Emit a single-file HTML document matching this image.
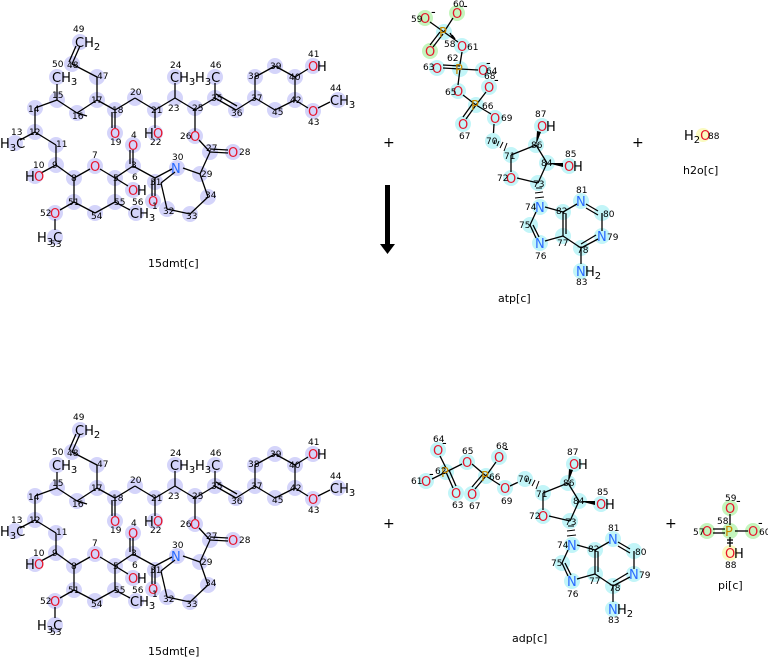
<!DOCTYPE html>
<html><head><meta charset="utf-8"><style>
html,body{margin:0;padding:0;background:#fff}
svg{display:block;font-family:"DejaVu Sans","Liberation Sans",sans-serif}
.l line{stroke:#000;stroke-width:1.3}
.n{font-size:9px;fill:#000}
.o{font-size:13px;fill:#e8142c}
.b{font-size:13px;fill:#2a6bff}
.k{font-size:13px;fill:#000}
.p{font-size:13px;fill:#c98a00}
.cl{fill:#d4d4fa}
.cc{fill:#c2f5f8}
.cg{fill:#c4f5bd}
.cy{fill:#fafac0}
.t{font-size:11px;fill:#000}
</style></head><body>
<svg width="768" height="657" viewBox="0 0 768 657" xmlns="http://www.w3.org/2000/svg">
<g id="m1">
<g class="cl">
<circle cx="80" cy="42" r="8"/><circle cx="72" cy="64" r="8"/><circle cx="97" cy="77" r="8"/><circle cx="97" cy="100" r="8"/><circle cx="57" cy="77" r="8"/><circle cx="57" cy="100" r="8"/><circle cx="77" cy="113" r="8"/><circle cx="35" cy="108" r="8"/><circle cx="35" cy="132" r="8"/><circle cx="15" cy="143" r="8"/><circle cx="56" cy="145" r="8"/><circle cx="56" cy="165" r="8"/><circle cx="35" cy="176" r="8"/><circle cx="74" cy="178" r="8"/><circle cx="95" cy="166" r="8"/><circle cx="115" cy="178" r="8"/><circle cx="133" cy="190" r="8"/><circle cx="133" cy="166" r="8"/><circle cx="133" cy="145" r="8"/><circle cx="155" cy="182" r="8"/><circle cx="153" cy="201" r="8"/><circle cx="177" cy="168" r="8"/><circle cx="115" cy="202" r="8"/><circle cx="95" cy="213" r="8"/><circle cx="74" cy="202" r="8"/><circle cx="55" cy="213" r="8"/><circle cx="55" cy="237" r="8"/><circle cx="167" cy="209" r="8"/><circle cx="190" cy="214" r="8"/><circle cx="208" cy="197" r="8"/><circle cx="200" cy="174" r="8"/><circle cx="210" cy="152" r="8"/><circle cx="233" cy="152" r="8"/><circle cx="195" cy="136" r="8"/><circle cx="195" cy="108" r="8"/><circle cx="115" cy="110" r="8"/><circle cx="115" cy="133" r="8"/><circle cx="135" cy="98" r="8"/><circle cx="155" cy="110" r="8"/><circle cx="155" cy="133" r="8"/><circle cx="175" cy="98" r="8"/><circle cx="175" cy="77" r="8"/><circle cx="215" cy="98" r="8"/><circle cx="215" cy="77" r="8"/><circle cx="236" cy="110" r="8"/><circle cx="255" cy="98" r="8"/><circle cx="255" cy="77" r="8"/><circle cx="275" cy="66" r="8"/><circle cx="295" cy="77" r="8"/><circle cx="313" cy="66" r="8"/><circle cx="295" cy="100" r="8"/><circle cx="313" cy="111" r="8"/><circle cx="338" cy="100" r="8"/><circle cx="275" cy="110" r="8"/><circle cx="136" cy="213" r="8"/>
</g>
<g class="l">
<line x1="80" y1="46" x2="72" y2="64"/><line x1="76" y1="46" x2="69" y2="62"/>
<line x1="72" y1="64" x2="97" y2="77"/><line x1="97" y1="77" x2="97" y2="100"/><line x1="97" y1="100" x2="77" y2="113"/><line x1="77" y1="113" x2="87" y2="116"/><line x1="77" y1="113" x2="57" y2="100"/><line x1="57" y1="100" x2="57" y2="84"/><line x1="57" y1="100" x2="35" y2="108"/><line x1="35" y1="108" x2="35" y2="132"/><line x1="35" y1="132" x2="20" y2="140"/><line x1="35" y1="132" x2="56" y2="145"/><line x1="56" y1="145" x2="56" y2="165"/><line x1="56" y1="165" x2="41" y2="173"/><line x1="56" y1="165" x2="74" y2="178"/><line x1="74" y1="178" x2="90" y2="169"/><line x1="100" y1="169" x2="115" y2="178"/><line x1="115" y1="178" x2="128" y2="186"/><line x1="115" y1="178" x2="133" y2="166"/><line x1="133" y1="166" x2="133" y2="150"/><line x1="130" y1="164" x2="130" y2="150"/><line x1="133" y1="166" x2="155" y2="178"/><line x1="155" y1="178" x2="155" y2="196"/><line x1="152" y1="180" x2="152" y2="196"/><line x1="155" y1="178" x2="172" y2="169"/><line x1="175" y1="172" x2="161" y2="183"/><line x1="161" y1="183" x2="167" y2="209"/><line x1="167" y1="209" x2="190" y2="214"/><line x1="190" y1="214" x2="208" y2="197"/><line x1="208" y1="197" x2="200" y2="174"/><line x1="200" y1="174" x2="183" y2="168"/><line x1="200" y1="174" x2="210" y2="152"/><line x1="210" y1="152" x2="228" y2="153"/><line x1="210" y1="149" x2="228" y2="150"/><line x1="210" y1="152" x2="199" y2="140"/><line x1="195" y1="131" x2="195" y2="108"/><line x1="115" y1="178" x2="115" y2="202"/><line x1="115" y1="202" x2="130" y2="210"/><line x1="115" y1="202" x2="95" y2="213"/><line x1="95" y1="213" x2="74" y2="202"/><line x1="74" y1="202" x2="74" y2="178"/><line x1="74" y1="202" x2="60" y2="210"/><line x1="55" y1="219" x2="55" y2="230"/><line x1="97" y1="100" x2="115" y2="110"/><line x1="115" y1="110" x2="115" y2="128"/><line x1="112" y1="112" x2="112" y2="128"/><line x1="115" y1="110" x2="135" y2="98"/><line x1="135" y1="98" x2="155" y2="110"/><line x1="155" y1="110" x2="155" y2="128"/><line x1="155" y1="110" x2="175" y2="98"/><line x1="175" y1="98" x2="175" y2="83"/><line x1="175" y1="98" x2="195" y2="110"/><line x1="195" y1="110" x2="215" y2="98"/><line x1="215" y1="98" x2="215" y2="83"/><line x1="215" y1="98" x2="236" y2="110"/><line x1="216" y1="94" x2="237" y2="106"/><line x1="236" y1="110" x2="255" y2="98"/><line x1="255" y1="98" x2="255" y2="77"/><line x1="255" y1="77" x2="275" y2="66"/><line x1="275" y1="66" x2="295" y2="77"/><line x1="295" y1="77" x2="308" y2="69"/><line x1="295" y1="77" x2="295" y2="100"/><line x1="295" y1="100" x2="308" y2="108"/><line x1="318" y1="108" x2="330" y2="102"/><line x1="295" y1="100" x2="275" y2="110"/><line x1="275" y1="110" x2="255" y2="98"/>
</g>
<text class="k" x="75" y="47">CH<tspan font-size="10" dy="3">2</tspan></text>
<text class="k" x="52" y="82">CH<tspan font-size="10" dy="3">3</tspan></text>
<text class="k" x="0" y="148">H<tspan font-size="10" dy="3">3</tspan><tspan dy="-3">C</tspan></text>
<text class="k" x="25" y="181">H</text><text class="o" x="34" y="181">O</text>
<text class="o" x="90" y="171">O</text>
<text class="o" x="128" y="195">O</text><text class="k" x="137" y="195">H</text>
<text class="o" x="128" y="150">O</text>
<text class="o" x="148" y="206">O</text>
<text class="b" x="171" y="173">N</text>
<text class="k" x="130" y="218">CH<tspan font-size="10" dy="3">3</tspan></text>
<text class="o" x="50" y="218">O</text>
<text class="k" x="37" y="242">H<tspan font-size="10" dy="3">3</tspan><tspan dy="-3">C</tspan></text>
<text class="o" x="190" y="141">O</text>
<text class="o" x="228" y="157">O</text>
<text class="o" x="110" y="138">O</text>
<text class="k" x="144" y="138">H</text><text class="o" x="153" y="138">O</text>
<text class="k" x="170" y="82">CH<tspan font-size="10" dy="3">3</tspan></text>
<text class="k" x="195" y="82">H<tspan font-size="10" dy="3">3</tspan><tspan dy="-3">C</tspan></text>
<text class="o" x="308" y="71">O</text><text class="k" x="317" y="71">H</text>
<text class="o" x="308" y="116">O</text>
<text class="k" x="330" y="105">CH<tspan font-size="10" dy="3">3</tspan></text>
<g class="n">
<text x="73" y="32">49</text><text x="67" y="68">48</text><text x="97" y="79">47</text><text x="91" y="103">17</text><text x="52" y="67">50</text><text x="52" y="98">15</text><text x="72" y="119">16</text><text x="28" y="112">14</text><text x="29" y="135">12</text><text x="11" y="135">13</text><text x="56" y="147">11</text><text x="33" y="168">10</text><text x="52" y="168">9</text><text x="71" y="181">8</text><text x="92" y="158">7</text><text x="113" y="181">5</text><text x="132" y="180">6</text><text x="131" y="168">3</text><text x="131" y="138">4</text><text x="150" y="185">31</text><text x="152" y="209">1</text><text x="172" y="160">30</text><text x="114" y="205">55</text><text x="132" y="205">56</text><text x="91" y="219">54</text><text x="68" y="205">51</text><text x="40" y="216">52</text><text x="50" y="247">53</text><text x="163" y="214">32</text><text x="186" y="219">33</text><text x="205" y="198">34</text><text x="201" y="177">29</text><text x="206" y="151">27</text><text x="239" y="155">28</text><text x="180" y="139">26</text><text x="192" y="111">25</text><text x="112" y="113">18</text><text x="110" y="145">19</text><text x="130" y="95">20</text><text x="151" y="113">21</text><text x="150" y="145">22</text><text x="168" y="111">23</text><text x="170" y="68">24</text><text x="211" y="101">35</text><text x="210" y="68">46</text><text x="231" y="116">36</text><text x="251" y="101">37</text><text x="248" y="79">38</text><text x="270" y="69">39</text><text x="289" y="80">40</text><text x="308" y="57">41</text><text x="290" y="103">42</text><text x="308" y="125">43</text><text x="330" y="91">44</text><text x="272" y="115">45</text>
</g>
</g>
<text class="t" x="148" y="267">15dmt[c]</text>

<g transform="translate(0,388)">
<g class="cl">
<circle cx="80" cy="42" r="8"/><circle cx="72" cy="64" r="8"/><circle cx="97" cy="77" r="8"/><circle cx="97" cy="100" r="8"/><circle cx="57" cy="77" r="8"/><circle cx="57" cy="100" r="8"/><circle cx="77" cy="113" r="8"/><circle cx="35" cy="108" r="8"/><circle cx="35" cy="132" r="8"/><circle cx="15" cy="143" r="8"/><circle cx="56" cy="145" r="8"/><circle cx="56" cy="165" r="8"/><circle cx="35" cy="176" r="8"/><circle cx="74" cy="178" r="8"/><circle cx="95" cy="166" r="8"/><circle cx="115" cy="178" r="8"/><circle cx="133" cy="190" r="8"/><circle cx="133" cy="166" r="8"/><circle cx="133" cy="145" r="8"/><circle cx="155" cy="182" r="8"/><circle cx="153" cy="201" r="8"/><circle cx="177" cy="168" r="8"/><circle cx="115" cy="202" r="8"/><circle cx="95" cy="213" r="8"/><circle cx="74" cy="202" r="8"/><circle cx="55" cy="213" r="8"/><circle cx="55" cy="237" r="8"/><circle cx="167" cy="209" r="8"/><circle cx="190" cy="214" r="8"/><circle cx="208" cy="197" r="8"/><circle cx="200" cy="174" r="8"/><circle cx="210" cy="152" r="8"/><circle cx="233" cy="152" r="8"/><circle cx="195" cy="136" r="8"/><circle cx="195" cy="108" r="8"/><circle cx="115" cy="110" r="8"/><circle cx="115" cy="133" r="8"/><circle cx="135" cy="98" r="8"/><circle cx="155" cy="110" r="8"/><circle cx="155" cy="133" r="8"/><circle cx="175" cy="98" r="8"/><circle cx="175" cy="77" r="8"/><circle cx="215" cy="98" r="8"/><circle cx="215" cy="77" r="8"/><circle cx="236" cy="110" r="8"/><circle cx="255" cy="98" r="8"/><circle cx="255" cy="77" r="8"/><circle cx="275" cy="66" r="8"/><circle cx="295" cy="77" r="8"/><circle cx="313" cy="66" r="8"/><circle cx="295" cy="100" r="8"/><circle cx="313" cy="111" r="8"/><circle cx="338" cy="100" r="8"/><circle cx="275" cy="110" r="8"/><circle cx="136" cy="213" r="8"/>
</g>
<g class="l">
<line x1="80" y1="46" x2="72" y2="64"/><line x1="76" y1="46" x2="69" y2="62"/>
<line x1="72" y1="64" x2="97" y2="77"/><line x1="97" y1="77" x2="97" y2="100"/><line x1="97" y1="100" x2="77" y2="113"/><line x1="77" y1="113" x2="87" y2="116"/><line x1="77" y1="113" x2="57" y2="100"/><line x1="57" y1="100" x2="57" y2="84"/><line x1="57" y1="100" x2="35" y2="108"/><line x1="35" y1="108" x2="35" y2="132"/><line x1="35" y1="132" x2="20" y2="140"/><line x1="35" y1="132" x2="56" y2="145"/><line x1="56" y1="145" x2="56" y2="165"/><line x1="56" y1="165" x2="41" y2="173"/><line x1="56" y1="165" x2="74" y2="178"/><line x1="74" y1="178" x2="90" y2="169"/><line x1="100" y1="169" x2="115" y2="178"/><line x1="115" y1="178" x2="128" y2="186"/><line x1="115" y1="178" x2="133" y2="166"/><line x1="133" y1="166" x2="133" y2="150"/><line x1="130" y1="164" x2="130" y2="150"/><line x1="133" y1="166" x2="155" y2="178"/><line x1="155" y1="178" x2="155" y2="196"/><line x1="152" y1="180" x2="152" y2="196"/><line x1="155" y1="178" x2="172" y2="169"/><line x1="175" y1="172" x2="161" y2="183"/><line x1="161" y1="183" x2="167" y2="209"/><line x1="167" y1="209" x2="190" y2="214"/><line x1="190" y1="214" x2="208" y2="197"/><line x1="208" y1="197" x2="200" y2="174"/><line x1="200" y1="174" x2="183" y2="168"/><line x1="200" y1="174" x2="210" y2="152"/><line x1="210" y1="152" x2="228" y2="153"/><line x1="210" y1="149" x2="228" y2="150"/><line x1="210" y1="152" x2="199" y2="140"/><line x1="195" y1="131" x2="195" y2="108"/><line x1="115" y1="178" x2="115" y2="202"/><line x1="115" y1="202" x2="130" y2="210"/><line x1="115" y1="202" x2="95" y2="213"/><line x1="95" y1="213" x2="74" y2="202"/><line x1="74" y1="202" x2="74" y2="178"/><line x1="74" y1="202" x2="60" y2="210"/><line x1="55" y1="219" x2="55" y2="230"/><line x1="97" y1="100" x2="115" y2="110"/><line x1="115" y1="110" x2="115" y2="128"/><line x1="112" y1="112" x2="112" y2="128"/><line x1="115" y1="110" x2="135" y2="98"/><line x1="135" y1="98" x2="155" y2="110"/><line x1="155" y1="110" x2="155" y2="128"/><line x1="155" y1="110" x2="175" y2="98"/><line x1="175" y1="98" x2="175" y2="83"/><line x1="175" y1="98" x2="195" y2="110"/><line x1="195" y1="110" x2="215" y2="98"/><line x1="215" y1="98" x2="215" y2="83"/><line x1="215" y1="98" x2="236" y2="110"/><line x1="216" y1="94" x2="237" y2="106"/><line x1="236" y1="110" x2="255" y2="98"/><line x1="255" y1="98" x2="255" y2="77"/><line x1="255" y1="77" x2="275" y2="66"/><line x1="275" y1="66" x2="295" y2="77"/><line x1="295" y1="77" x2="308" y2="69"/><line x1="295" y1="77" x2="295" y2="100"/><line x1="295" y1="100" x2="308" y2="108"/><line x1="318" y1="108" x2="330" y2="102"/><line x1="295" y1="100" x2="275" y2="110"/><line x1="275" y1="110" x2="255" y2="98"/>
</g>
<text class="k" x="75" y="47">CH<tspan font-size="10" dy="3">2</tspan></text>
<text class="k" x="52" y="82">CH<tspan font-size="10" dy="3">3</tspan></text>
<text class="k" x="0" y="148">H<tspan font-size="10" dy="3">3</tspan><tspan dy="-3">C</tspan></text>
<text class="k" x="25" y="181">H</text><text class="o" x="34" y="181">O</text>
<text class="o" x="90" y="171">O</text>
<text class="o" x="128" y="195">O</text><text class="k" x="137" y="195">H</text>
<text class="o" x="128" y="150">O</text>
<text class="o" x="148" y="206">O</text>
<text class="b" x="171" y="173">N</text>
<text class="k" x="130" y="218">CH<tspan font-size="10" dy="3">3</tspan></text>
<text class="o" x="50" y="218">O</text>
<text class="k" x="37" y="242">H<tspan font-size="10" dy="3">3</tspan><tspan dy="-3">C</tspan></text>
<text class="o" x="190" y="141">O</text>
<text class="o" x="228" y="157">O</text>
<text class="o" x="110" y="138">O</text>
<text class="k" x="144" y="138">H</text><text class="o" x="153" y="138">O</text>
<text class="k" x="170" y="82">CH<tspan font-size="10" dy="3">3</tspan></text>
<text class="k" x="195" y="82">H<tspan font-size="10" dy="3">3</tspan><tspan dy="-3">C</tspan></text>
<text class="o" x="308" y="71">O</text><text class="k" x="317" y="71">H</text>
<text class="o" x="308" y="116">O</text>
<text class="k" x="330" y="105">CH<tspan font-size="10" dy="3">3</tspan></text>
<g class="n">
<text x="73" y="32">49</text><text x="67" y="68">48</text><text x="97" y="79">47</text><text x="91" y="103">17</text><text x="52" y="67">50</text><text x="52" y="98">15</text><text x="72" y="119">16</text><text x="28" y="112">14</text><text x="29" y="135">12</text><text x="11" y="135">13</text><text x="56" y="147">11</text><text x="33" y="168">10</text><text x="52" y="168">9</text><text x="71" y="181">8</text><text x="92" y="158">7</text><text x="113" y="181">5</text><text x="132" y="180">6</text><text x="131" y="168">3</text><text x="131" y="138">4</text><text x="150" y="185">31</text><text x="152" y="209">1</text><text x="172" y="160">30</text><text x="114" y="205">55</text><text x="132" y="205">56</text><text x="91" y="219">54</text><text x="68" y="205">51</text><text x="40" y="216">52</text><text x="50" y="247">53</text><text x="163" y="214">32</text><text x="186" y="219">33</text><text x="205" y="198">34</text><text x="201" y="177">29</text><text x="206" y="151">27</text><text x="239" y="155">28</text><text x="180" y="139">26</text><text x="192" y="111">25</text><text x="112" y="113">18</text><text x="110" y="145">19</text><text x="130" y="95">20</text><text x="151" y="113">21</text><text x="150" y="145">22</text><text x="168" y="111">23</text><text x="170" y="68">24</text><text x="211" y="101">35</text><text x="210" y="68">46</text><text x="231" y="116">36</text><text x="251" y="101">37</text><text x="248" y="79">38</text><text x="270" y="69">39</text><text x="289" y="80">40</text><text x="308" y="57">41</text><text x="290" y="103">42</text><text x="308" y="125">43</text><text x="330" y="91">44</text><text x="272" y="115">45</text>
</g>
</g>
<text class="t" x="148" y="655">15dmt[e]</text>

<!-- plus and arrow -->
<text x="383" y="147" font-size="14" fill="#000">+</text>
<text x="632" y="147" font-size="14" fill="#000">+</text>
<text x="383" y="528" font-size="14" fill="#000">+</text>
<text x="665" y="528" font-size="14" fill="#000">+</text>
<rect x="385" y="185" width="5" height="60" fill="#000"/>
<polygon points="380,244 395,244 387.5,254" fill="#000"/>

<!-- ATP phosphates -->
<g class="cg"><circle cx="425" cy="18" r="8"/><circle cx="457" cy="13" r="8"/><circle cx="430" cy="51" r="8"/></g>
<g class="cc"><circle cx="444" cy="32" r="8"/><circle cx="462" cy="46" r="8"/><circle cx="460" cy="69" r="8"/><circle cx="437" cy="68" r="8"/><circle cx="483" cy="70" r="8"/><circle cx="489" cy="87" r="8"/><circle cx="458" cy="91" r="8"/><circle cx="476" cy="105" r="8"/><circle cx="463" cy="124" r="8"/><circle cx="495" cy="118" r="8"/></g>
<g class="l">
<line x1="444" y1="32" x2="430" y2="22"/><line x1="444" y1="32" x2="453" y2="18"/><line x1="443" y1="34" x2="433" y2="47"/><line x1="440" y1="32" x2="430" y2="45"/><line x1="444" y1="32" x2="458" y2="42"/><line x1="450" y1="33" x2="453" y2="38"/><line x1="452" y1="35" x2="455" y2="39"/>
<line x1="462" y1="52" x2="460" y2="64"/><line x1="460" y1="69" x2="443" y2="68"/><line x1="460" y1="66" x2="443" y2="65"/><line x1="460" y1="69" x2="478" y2="70"/><line x1="460" y1="69" x2="458" y2="85"/><line x1="463" y1="95" x2="476" y2="105"/><line x1="476" y1="105" x2="486" y2="92"/><line x1="476" y1="105" x2="466" y2="119"/><line x1="473" y1="103" x2="463" y2="117"/><line x1="476" y1="105" x2="491" y2="114"/><line x1="494" y1="124" x2="493" y2="141"/>
</g>
<text class="o" x="420" y="23">O</text><text class="k" x="431" y="16" font-size="10">-</text>
<text class="o" x="452" y="18">O</text><text class="k" x="463" y="10" font-size="10">-</text>
<text class="o" x="425" y="56">O</text>
<text class="p" x="439" y="37">P</text>
<text class="o" x="457" y="51">O</text>
<text class="p" x="455" y="74">P</text>
<text class="o" x="432" y="73">O</text>
<text class="o" x="478" y="75">O</text><text class="k" x="486" y="67" font-size="10">-</text>
<text class="o" x="484" y="92">O</text><text class="k" x="494" y="84" font-size="10">-</text>
<text class="o" x="453" y="96">O</text>
<text class="p" x="471" y="110">P</text>
<text class="o" x="458" y="129">O</text>
<text class="o" x="490" y="123">O</text>
<g class="n"><text x="411" y="22">59</text><text x="453" y="7">60</text><text x="444" y="47">58</text><text x="423" y="70">63</text><text x="467" y="50">61</text><text x="447" y="61">62</text><text x="486" y="74">64</text><text x="484" y="79">68</text><text x="445" y="95">65</text><text x="482" y="109">66</text><text x="459" y="139">67</text><text x="501" y="121">69</text></g>

<!-- nucleoside ATP -->
<g id="nuc">
<g class="cc"><circle cx="493" cy="141" r="8"/><circle cx="511" cy="155" r="8"/><circle cx="536" cy="145" r="8"/><circle cx="542" cy="126" r="8"/><circle cx="547" cy="163" r="8"/><circle cx="569" cy="166" r="8"/><circle cx="538" cy="183" r="8"/><circle cx="511" cy="178" r="8"/><circle cx="540" cy="207" r="8"/><circle cx="563" cy="212" r="8"/><circle cx="581" cy="201" r="8"/><circle cx="602" cy="213" r="8"/><circle cx="602" cy="236" r="8"/><circle cx="581" cy="248" r="8"/><circle cx="563" cy="236" r="8"/><circle cx="540" cy="243" r="8"/><circle cx="530" cy="225" r="8"/><circle cx="581" cy="271" r="8"/></g>
<g class="l">
<line x1="511" y1="155" x2="536" y2="145"/><line x1="536" y1="145" x2="547" y2="163"/><line x1="547" y1="163" x2="538" y2="183"/><line x1="538" y1="183" x2="517" y2="178"/><line x1="511" y1="172" x2="511" y2="155"/>
<line x1="536" y1="212" x2="530" y2="225"/><line x1="530" y1="225" x2="536" y2="238"/><line x1="533" y1="225" x2="539" y2="237"/><line x1="545" y1="241" x2="563" y2="236"/><line x1="563" y1="236" x2="563" y2="212"/><line x1="566" y1="234" x2="566" y2="214"/><line x1="563" y1="212" x2="545" y2="207"/><line x1="563" y1="212" x2="577" y2="204"/><line x1="586" y1="204" x2="598" y2="211"/><line x1="586" y1="208" x2="598" y2="215"/><line x1="602" y1="213" x2="602" y2="231"/><line x1="598" y1="239" x2="581" y2="248"/><line x1="596" y1="235" x2="581" y2="244"/><line x1="581" y1="248" x2="563" y2="236"/><line x1="581" y1="248" x2="581" y2="264"/>
</g>
<polygon points="536,145 537,131 541,132" fill="#000"/>
<polygon points="547,163 563,163 563,167" fill="#000"/>
<g stroke="#000" stroke-width="1">
<line x1="495" y1="140" x2="494" y2="144"/><line x1="499" y1="141" x2="497" y2="146"/><line x1="503" y1="142" x2="500" y2="148"/><line x1="507" y1="143" x2="504" y2="151"/>
<line x1="536" y1="188" x2="542" y2="188"/><line x1="535" y1="193" x2="543" y2="192"/><line x1="535" y1="198" x2="544" y2="197"/>
</g>
<text class="o" x="537" y="131">O</text><text class="k" x="546" y="131">H</text>
<text class="o" x="564" y="171">O</text><text class="k" x="573" y="171">H</text>
<text class="o" x="506" y="183">O</text>
<text class="b" x="535" y="212">N</text>
<text class="b" x="576" y="206">N</text>
<text class="b" x="597" y="241">N</text>
<text class="b" x="535" y="248">N</text>
<text class="b" x="576" y="276">N</text><text class="k" x="585" y="276">H<tspan font-size="10" dy="3">2</tspan></text>
<g class="n"><text x="535" y="117">87</text><text x="531" y="148">86</text><text x="565" y="157">85</text><text x="541" y="166">84</text><text x="504" y="159">71</text><text x="486" y="144">70</text><text x="497" y="181">72</text><text x="533" y="187">73</text><text x="525" y="210">74</text><text x="556" y="214">82</text><text x="576" y="193">81</text><text x="603" y="217">80</text><text x="607" y="240">79</text><text x="577" y="253">78</text><text x="557" y="246">77</text><text x="535" y="259">76</text><text x="519" y="228">75</text><text x="576" y="285">83</text></g>
</g>
<text class="t" x="498" y="302">atp[c]</text>

<!-- H2O -->
<circle cx="703" cy="135" r="7" class="cy"/>
<text class="k" x="684" y="140">H<tspan font-size="10" dy="3">2</tspan><tspan dy="-3" fill="#e8142c">O</tspan></text>
<text class="n" x="708" y="139">88</text>
<text class="t" x="683" y="174">h2o[c]</text>

<!-- ADP -->
<g class="cc"><circle cx="438" cy="450" r="8"/><circle cx="446" cy="472" r="8"/><circle cx="426" cy="481" r="8"/><circle cx="456" cy="493" r="8"/><circle cx="467" cy="462" r="8"/><circle cx="486" cy="476" r="8"/><circle cx="499" cy="457" r="8"/><circle cx="472" cy="494" r="8"/><circle cx="505" cy="488" r="8"/></g>
<g class="l">
<line x1="440" y1="456" x2="446" y2="468"/><line x1="446" y1="472" x2="432" y2="479"/><line x1="446" y1="472" x2="453" y2="488"/><line x1="449" y1="470" x2="456" y2="486"/><line x1="446" y1="472" x2="462" y2="464"/><line x1="472" y1="464" x2="486" y2="476"/><line x1="486" y1="476" x2="496" y2="462"/><line x1="486" y1="476" x2="475" y2="489"/><line x1="483" y1="474" x2="472" y2="487"/><line x1="486" y1="476" x2="500" y2="485"/><line x1="510" y1="486" x2="525" y2="479"/>
</g>
<text class="o" x="433" y="455">O</text><text class="k" x="442" y="447" font-size="10">-</text>
<text class="p" x="441" y="477">P</text>
<text class="o" x="421" y="486">O</text><text class="k" x="429" y="478" font-size="10">-</text>
<text class="o" x="451" y="498">O</text>
<text class="o" x="462" y="467">O</text>
<text class="p" x="481" y="481">P</text>
<text class="o" x="494" y="462">O</text><text class="k" x="504" y="453" font-size="10">-</text>
<text class="o" x="467" y="499">O</text>
<text class="o" x="500" y="493">O</text>
<g class="n"><text x="433" y="442">64</text><text x="435" y="474">62</text><text x="411" y="484">61</text><text x="452" y="508">63</text><text x="462" y="454">65</text><text x="489" y="480">66</text><text x="496" y="449">68</text><text x="469" y="509">67</text><text x="501" y="504">69</text></g>
<g transform="translate(32,338)">
<g class="cc"><circle cx="493" cy="141" r="8"/><circle cx="511" cy="155" r="8"/><circle cx="536" cy="145" r="8"/><circle cx="542" cy="126" r="8"/><circle cx="547" cy="163" r="8"/><circle cx="569" cy="166" r="8"/><circle cx="538" cy="183" r="8"/><circle cx="511" cy="178" r="8"/><circle cx="540" cy="207" r="8"/><circle cx="563" cy="212" r="8"/><circle cx="581" cy="201" r="8"/><circle cx="602" cy="213" r="8"/><circle cx="602" cy="236" r="8"/><circle cx="581" cy="248" r="8"/><circle cx="563" cy="236" r="8"/><circle cx="540" cy="243" r="8"/><circle cx="530" cy="225" r="8"/><circle cx="581" cy="271" r="8"/></g>
<g class="l">
<line x1="511" y1="155" x2="536" y2="145"/><line x1="536" y1="145" x2="547" y2="163"/><line x1="547" y1="163" x2="538" y2="183"/><line x1="538" y1="183" x2="517" y2="178"/><line x1="511" y1="172" x2="511" y2="155"/>
<line x1="536" y1="212" x2="530" y2="225"/><line x1="530" y1="225" x2="536" y2="238"/><line x1="533" y1="225" x2="539" y2="237"/><line x1="545" y1="241" x2="563" y2="236"/><line x1="563" y1="236" x2="563" y2="212"/><line x1="566" y1="234" x2="566" y2="214"/><line x1="563" y1="212" x2="545" y2="207"/><line x1="563" y1="212" x2="577" y2="204"/><line x1="586" y1="204" x2="598" y2="211"/><line x1="586" y1="208" x2="598" y2="215"/><line x1="602" y1="213" x2="602" y2="231"/><line x1="598" y1="239" x2="581" y2="248"/><line x1="596" y1="235" x2="581" y2="244"/><line x1="581" y1="248" x2="563" y2="236"/><line x1="581" y1="248" x2="581" y2="264"/>
</g>
<polygon points="536,145 537,131 541,132" fill="#000"/>
<polygon points="547,163 563,163 563,167" fill="#000"/>
<g stroke="#000" stroke-width="1">
<line x1="495" y1="140" x2="494" y2="144"/><line x1="499" y1="141" x2="497" y2="146"/><line x1="503" y1="142" x2="500" y2="148"/><line x1="507" y1="143" x2="504" y2="151"/>
<line x1="536" y1="188" x2="542" y2="188"/><line x1="535" y1="193" x2="543" y2="192"/><line x1="535" y1="198" x2="544" y2="197"/>
</g>
<text class="o" x="537" y="131">O</text><text class="k" x="546" y="131">H</text>
<text class="o" x="564" y="171">O</text><text class="k" x="573" y="171">H</text>
<text class="o" x="506" y="183">O</text>
<text class="b" x="535" y="212">N</text>
<text class="b" x="576" y="206">N</text>
<text class="b" x="597" y="241">N</text>
<text class="b" x="535" y="248">N</text>
<text class="b" x="576" y="276">N</text><text class="k" x="585" y="276">H<tspan font-size="10" dy="3">2</tspan></text>
<g class="n"><text x="535" y="117">87</text><text x="531" y="148">86</text><text x="565" y="157">85</text><text x="541" y="166">84</text><text x="504" y="159">71</text><text x="486" y="144">70</text><text x="497" y="181">72</text><text x="533" y="187">73</text><text x="525" y="210">74</text><text x="556" y="214">82</text><text x="576" y="193">81</text><text x="603" y="217">80</text><text x="607" y="240">79</text><text x="577" y="253">78</text><text x="557" y="246">77</text><text x="535" y="259">76</text><text x="519" y="228">75</text><text x="576" y="285">83</text></g>
</g>
<text class="t" x="512" y="642">adp[c]</text>

<!-- Pi -->
<g class="cg"><circle cx="730" cy="508" r="8"/><circle cx="707" cy="531" r="8"/><circle cx="753" cy="531" r="8"/><circle cx="730" cy="531" r="8"/></g>
<circle cx="730" cy="553" r="8" class="cy"/>
<g class="l">
<line x1="730" y1="514" x2="730" y2="525"/><line x1="713" y1="529" x2="725" y2="529"/><line x1="713" y1="533" x2="725" y2="533"/><line x1="735" y1="531" x2="748" y2="531"/><line x1="730" y1="537" x2="730" y2="547"/><line x1="727" y1="540" x2="733" y2="540"/><line x1="727" y1="543" x2="733" y2="543"/>
</g>
<text class="o" x="725" y="513">O</text><text class="k" x="736" y="505" font-size="10">-</text>
<text class="o" x="702" y="536">O</text>
<text class="p" x="725" y="536">P</text>
<text class="o" x="748" y="536">O</text><text class="k" x="758" y="527" font-size="10">-</text>
<text class="o" x="725" y="558">O</text><text class="k" x="734" y="558">H</text>
<g class="n"><text x="725" y="501">59</text><text x="717" y="524">58</text><text x="693" y="535">57</text><text x="759" y="535">60</text><text x="725" y="568">88</text></g>
<text class="t" x="718" y="589">pi[c]</text>
</svg>
</body></html>
